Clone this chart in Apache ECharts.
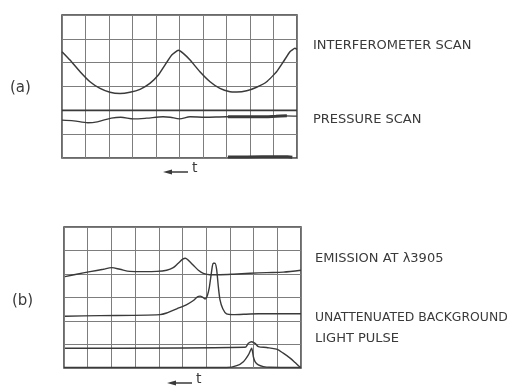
<!DOCTYPE html>
<html>
<head>
<meta charset="utf-8">
<script src="https://cdn.jsdelivr.net/npm/echarts@6/dist/echarts.min.js"></script>
<style>
  html, body { margin: 0; padding: 0; background: #fff; }
  #main { width: 508px; height: 388px; }
</style>
</head>
<body>
<div id="main"></div>
<script>
// grid divisions: 10 across, 6 down (screen units)
var xTicks = [0, 10, 1];
var yTicks = [0, 6, 1];

// panel (a)
var interferometerScan = [
    [0, 4.46], [0.34, 4.11], [0.77, 3.62], [1.19, 3.20], [1.62, 2.92], [2.04, 2.76],
    [2.47, 2.71], [2.89, 2.76], [3.32, 2.88], [3.74, 3.13], [4.10, 3.48], [4.38, 3.90],
    [4.67, 4.32], [4.95, 4.52], [5.16, 4.39], [5.45, 4.11], [5.87, 3.62], [6.30, 3.20],
    [6.72, 2.92], [7.15, 2.78], [7.43, 2.77], [7.86, 2.82], [8.28, 2.97], [8.71, 3.20],
    [9.13, 3.62], [9.42, 4.04], [9.70, 4.46], [9.91, 4.60], [10, 4.56]
];
var pressureScan = [
    [0, 1.59], [0.5, 1.56], [1.1, 1.48], [1.5, 1.52], [2.1, 1.67], [2.5, 1.71],
    [3.05, 1.64], [3.6, 1.67], [4.3, 1.73], [4.6, 1.71], [5.0, 1.64], [5.45, 1.73],
    [6.1, 1.71], [7.0, 1.73], [7.6, 1.73], [8.4, 1.73], [9.1, 1.75], [9.5, 1.77], [10, 1.76]
];
var pressureNoise = [[7.06, 1.73], [7.6, 1.73], [8.4, 1.73], [9.1, 1.75], [9.57, 1.77]];
var pressureRef = [[0, 2.0], [10, 2.0]];
var pressureFloor = [[7.06, 0.04], [8.5, 0.05], [9.6, 0.05], [9.8, 0.03]];

// panel (b)
var emission = [
    [0.04, 3.89], [0.53, 3.99], [1.10, 4.10], [1.66, 4.20], [2.01, 4.27], [2.36, 4.20],
    [2.78, 4.11], [3.35, 4.10], [3.91, 4.11], [4.33, 4.16], [4.61, 4.27], [4.82, 4.46],
    [5.01, 4.63], [5.12, 4.67], [5.24, 4.59], [5.46, 4.37], [5.67, 4.16], [5.88, 4.03],
    [6.16, 3.97], [6.58, 3.97], [7.14, 3.99], [7.85, 4.03], [8.55, 4.06], [9.25, 4.08], [10, 4.16]
];
var emissionPulse = [
    [0.04, 2.20], [1.52, 2.23], [2.92, 2.24], [4.05, 2.27], [4.33, 2.34], [4.76, 2.52],
    [5.18, 2.70], [5.46, 2.87], [5.63, 3.03], [5.74, 3.06], [5.88, 2.99], [5.95, 2.94],
    [6.05, 3.09], [6.13, 3.42], [6.20, 3.91], [6.26, 4.34], [6.30, 4.46], [6.37, 4.46],
    [6.44, 4.20], [6.51, 3.48], [6.58, 2.91], [6.70, 2.52], [6.86, 2.30], [7.14, 2.27],
    [7.85, 2.30], [8.55, 2.31], [10, 2.31]
];
var background = [
    [0.04, 0.84], [7.64, 0.88], [7.78, 1.05], [7.92, 1.12], [8.06, 1.05], [8.20, 0.91],
    [8.55, 0.87], [8.97, 0.80], [9.25, 0.63], [9.54, 0.42], [9.75, 0.23], [9.93, 0.06], [10, 0]
];
var lightPulse = [
    [0, 0.02], [6.86, 0.02], [7.29, 0.10], [7.57, 0.27], [7.78, 0.56], [7.92, 0.84],
    [7.99, 0.48], [8.06, 0.27], [8.20, 0.13], [8.41, 0.06], [8.69, 0.03], [10, 0.02]
];

var traceLabelsA = ['INTERFEROMETER SCAN', 'PRESSURE SCAN'];
var traceLabelsB = ['EMISSION AT λ3905', 'UNATTENUATED BACKGROUND', 'LIGHT PULSE'];

var ink = '#3a3a3a';
var gridInk = '#7d7d7d';
var font = 'DejaVu Sans';

var chart = echarts.init(document.getElementById('main'), null, { renderer: 'canvas' });

function axisX(idx) {
    return {
        type: 'value', gridIndex: idx, min: xTicks[0], max: xTicks[1], interval: xTicks[2],
        axisLine: { show: false }, axisTick: { show: false }, axisLabel: { show: false },
        splitLine: { show: true, lineStyle: { color: gridInk, width: 1 } }
    };
}
function axisY(idx) {
    return {
        type: 'value', gridIndex: idx, min: yTicks[0], max: yTicks[1], interval: yTicks[2],
        axisLine: { show: false }, axisTick: { show: false }, axisLabel: { show: false },
        splitLine: { show: true, lineStyle: { color: gridInk, width: 1 } }
    };
}
function trace(name, idx, data, width, smooth) {
    return {
        name: name, type: 'line', xAxisIndex: idx, yAxisIndex: idx,
        data: data, smooth: smooth == null ? 0.3 : smooth, symbol: 'none', silent: true,
        lineStyle: { color: ink, width: width || 1.4 }
    };
}
function label(txt, x, y, size) {
    return {
        type: 'text', left: x, top: y,
        style: { text: txt, font: (size || 13) + 'px "' + font + '"', fill: ink }
    };
}
// left/top place the group's bounding box; the 't' reaches 7px above the shaft
function timeArrow(x, y) {
    return {
        type: 'group', left: x, top: y,
        children: [
            { type: 'polygon', shape: { points: [[0, 4], [9, 1.5], [9, 6.5]] }, style: { fill: ink } },
            { type: 'line', shape: { x1: 6, y1: 4, x2: 25, y2: 4 }, style: { stroke: ink, lineWidth: 1.5 } },
            { type: 'text', left: 29, top: -7, style: { text: 't', font: '14px "' + font + '"', fill: ink } }
        ]
    };
}

var option = {
    animation: false,
    backgroundColor: '#fff',
    grid: [
        { left: 62, top: 15, width: 235, height: 143, show: true, borderColor: ink, borderWidth: 1.5 },
        { left: 64, top: 227, width: 237, height: 141, show: true, borderColor: ink, borderWidth: 1.5 }
    ],
    xAxis: [axisX(0), axisX(1)],
    yAxis: [axisY(0), axisY(1)],
    series: [
        trace('Interferometer scan', 0, interferometerScan, 1.5, 0.12),
        trace('Pressure reference', 0, pressureRef, 1.6),
        trace('Pressure scan', 0, pressureScan, 1.3),
        trace('Pressure noise', 0, pressureNoise, 3),
        trace('Pressure floor', 0, pressureFloor, 3),
        trace('Emission', 1, emission, 1.4),
        trace('Emission pulse', 1, emissionPulse, 1.4, 0.2),
        trace('Unattenuated background', 1, background, 1.4),
        trace('Light pulse', 1, lightPulse, 1.4, 0.2)
    ],
    graphic: [
        label(traceLabelsA[0], 313, 39),
        label(traceLabelsA[1], 313, 113),
        label(traceLabelsB[0], 315, 252),
        label(traceLabelsB[1], 315, 312, 12.4),
        label(traceLabelsB[2], 315, 332),
        label('(a)', 10, 81, 15),
        label('(b)', 12, 294, 15),
        timeArrow(163, 161),
        timeArrow(167, 372)
    ]
};

chart.setOption(option);

window.addEventListener('resize', function () {
    chart.resize();
});
</script>
</body>
</html>
